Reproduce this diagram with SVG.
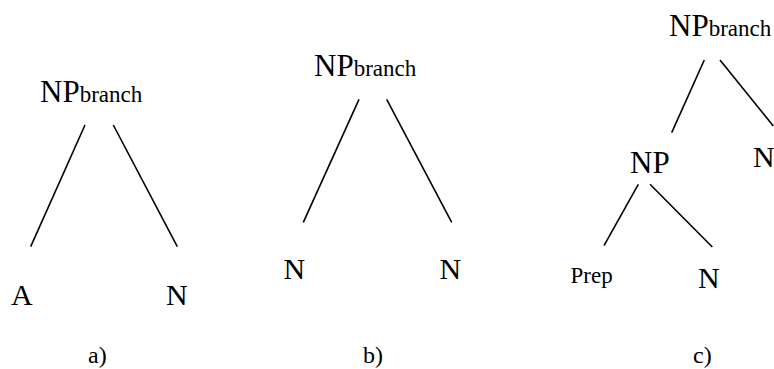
<svg xmlns="http://www.w3.org/2000/svg" width="774" height="369" viewBox="0 0 774 369" font-family="'Liberation Serif', 'Times New Roman', Times, serif">
  <style>
    text { font-family: "Liberation Serif", Tinos, "Times New Roman", Times, serif; fill: #000; }
    .big { font-size: 30px; }
    .np { font-size: 31px; }
    .sub { font-size: 23px; }
    .small { font-size: 23px; }
    .cap { font-size: 24px; }
    .edge { stroke: #000; stroke-width: 1.6; fill: none; }
  </style>
  <rect width="774" height="369" fill="#fff"/>

  <!-- connectors -->
  <g id="connectors">
    <!-- tree a -->
    <line class="edge" x1="85" y1="125" x2="30.7" y2="246.7"/>
    <line class="edge" x1="113.3" y1="125" x2="177.3" y2="246.7"/>
    <!-- tree b -->
    <line class="edge" x1="359" y1="99.3" x2="303.3" y2="222.3"/>
    <line class="edge" x1="386.7" y1="99.3" x2="451.7" y2="222.3"/>
    <!-- tree c -->
    <line class="edge" x1="704.3" y1="60" x2="671.7" y2="132.7"/>
    <line class="edge" x1="720" y1="60" x2="773.3" y2="126"/>
    <line class="edge" x1="638.3" y1="184.3" x2="604" y2="245.7"/>
    <line class="edge" x1="650" y1="184.3" x2="712.3" y2="247"/>
  </g>

  <!-- tree a -->
  <g id="a-root"><text x="40" y="102" class="np">NP<tspan class="sub">branch</tspan></text></g>
  <g id="a-left"><text x="11" y="305" class="big">A</text></g>
  <g id="a-right"><text x="166" y="305" class="big">N</text></g>
  <g id="a-label"><text x="88" y="363" class="cap">a)</text></g>

  <!-- tree b -->
  <g id="b-root"><text x="314" y="76" class="np">NP<tspan class="sub">branch</tspan></text></g>
  <g id="b-left"><text x="283.5" y="279" class="big">N</text></g>
  <g id="b-right"><text x="439.5" y="279" class="big">N</text></g>
  <g id="b-label"><text x="363" y="363" class="cap">b)</text></g>

  <!-- tree c -->
  <g id="c-root"><text x="669" y="36" class="np">NP<tspan class="sub">branch</tspan></text></g>
  <g id="c-np"><text x="630" y="173" class="np">NP</text></g>
  <g id="c-right"><text x="753" y="167" class="big">N</text></g>
  <g id="c-prep"><text x="570.5" y="283" class="small">Prep</text></g>
  <g id="c-n"><text x="698" y="288" class="big">N</text></g>
  <g id="c-label"><text x="693" y="363" class="cap">c)</text></g>
</svg>
